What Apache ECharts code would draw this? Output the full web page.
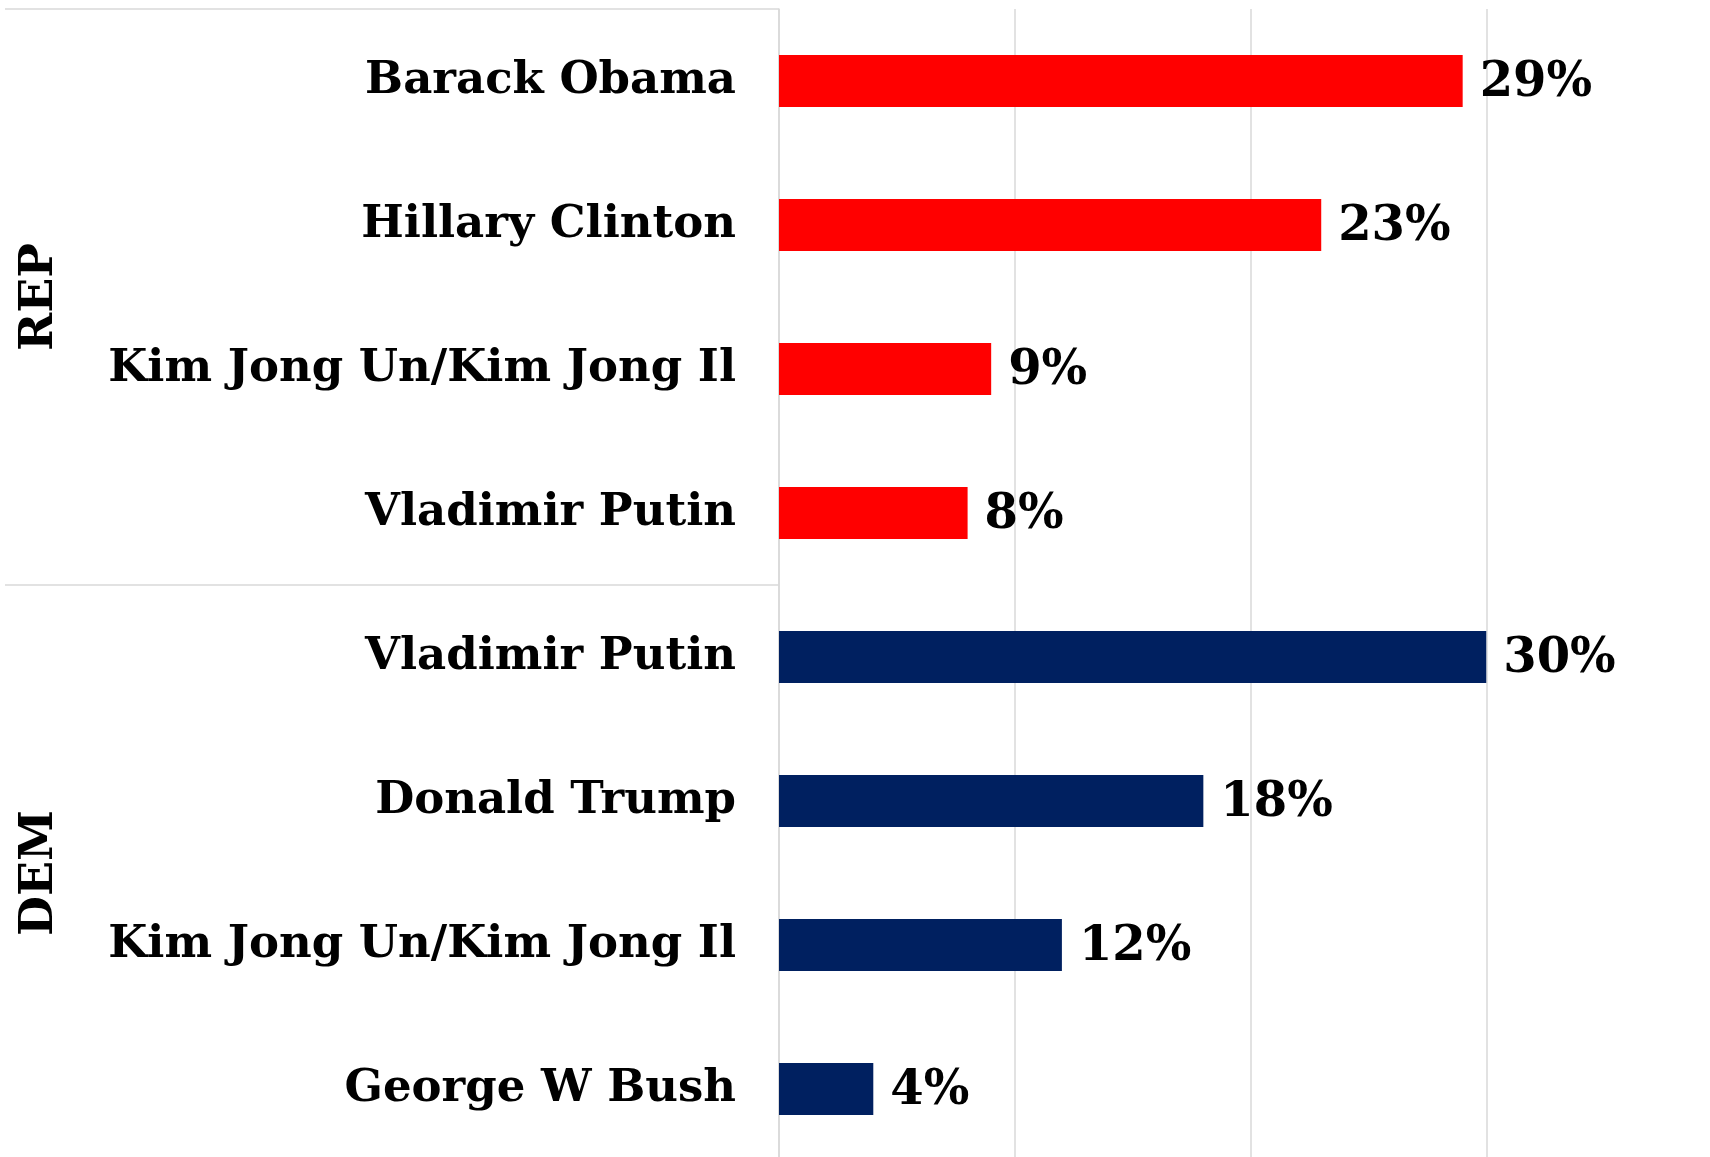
<!DOCTYPE html>
<html>
<head>
<meta charset="utf-8">
<script src="https://cdn.jsdelivr.net/npm/echarts@6/dist/echarts.min.js"></script>
<style>
html,body{margin:0;padding:0;background:#fff;}
#chart{width:1710px;height:1157px;}
</style>
</head>
<body>
<div id="chart"></div>
<script>
// ---- data ----
var groups = ['REP', 'DEM'];
var repNames = ['Barack Obama', 'Hillary Clinton', 'Kim Jong Un/Kim Jong Il', 'Vladimir Putin'];
var repValues = [29, 23, 9, 8];
var demNames = ['Vladimir Putin', 'Donald Trump', 'Kim Jong Un/Kim Jong Il', 'George W Bush'];
var demValues = [30, 18, 12, 4];
var xTicks = [0, 10, 20, 30, 40];

// ---- build ----
var FONT = '"DejaVu Serif", serif';
var colors = { REP: '#ff0000', DEM: '#002060' };
var categories = repNames.concat(demNames);
var seriesData = [];
repValues.forEach(function (v) { seriesData.push({ value: v, itemStyle: { color: colors.REP } }); });
demValues.forEach(function (v) { seriesData.push({ value: v, itemStyle: { color: colors.DEM } }); });

var chart = echarts.init(document.getElementById('chart'), null, { renderer: 'canvas' });
chart.setOption({
  backgroundColor: '#ffffff',
  animation: false,
  grid: { left: 779, top: 9, width: 943, height: 1152, containLabel: false, outerBoundsMode: 'none' },
  xAxis: {
    type: 'value',
    min: xTicks[0],
    max: xTicks[xTicks.length - 1],
    interval: 10,
    axisLine: { show: false },
    axisTick: { show: false },
    axisLabel: { show: false },
    splitLine: { show: true, lineStyle: { color: '#d9d9d9', width: 1.5 } }
  },
  yAxis: [
    {
      type: 'category',
      inverse: true,
      data: categories,
      axisLine: { show: true, lineStyle: { color: '#d9d9d9', width: 1.5 } },
      axisTick: { show: false },
      axisLabel: {
        interval: 0,
        margin: 43,
        color: '#000',
        fontFamily: FONT,
        fontWeight: 'bold',
        fontSize: 45,
        padding: [18, 0, 0, 0]
      }
    },
    {
      type: 'category',
      inverse: true,
      position: 'left',
      data: groups,
      axisLine: { show: false },
      axisTick: { show: true, length: 774, lineStyle: { color: '#d9d9d9', width: 1.5 } },
      axisLabel: {
        interval: 0,
        rotate: 90,
        margin: 716,
        color: '#000',
        fontFamily: FONT,
        fontWeight: 'bold',
        fontSize: 46
      }
    }
  ],
  series: [{
    type: 'bar',
    yAxisIndex: 0,
    barWidth: 52,
    data: seriesData,
    label: {
      show: true,
      position: 'right',
      distance: 17,
      offset: [0, 3],
      formatter: '{c}%',
      color: '#000',
      fontFamily: FONT,
      fontWeight: 'bold',
      fontSize: 48,
      padding: [17, 0, 0, 0]
    }
  }]
});
</script>
</body>
</html>
